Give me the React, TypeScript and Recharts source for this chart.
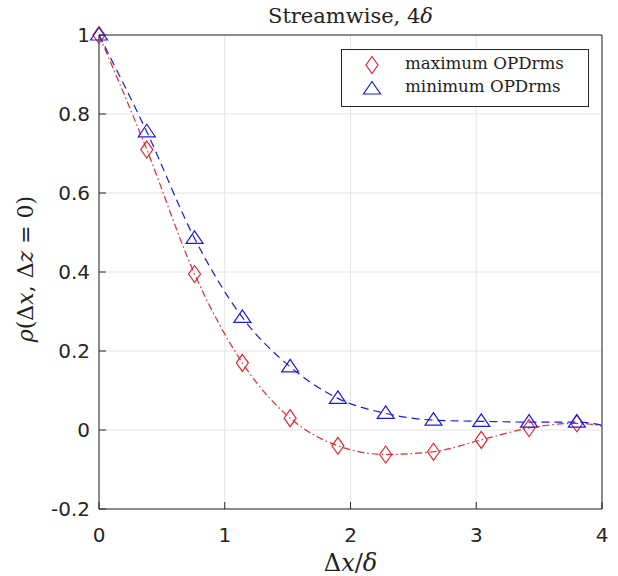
import React from "react";
import {
  ComposedChart,
  Line,
  CartesianGrid,
  XAxis,
  YAxis
} from "recharts";

// separations dx/delta at which the correlation was sampled (last one is the curve end)
const dxValues = [0, 0.38, 0.76, 1.14, 1.52, 1.9, 2.28, 2.66, 3.04, 3.42, 3.8, 4];
const maxOpd = [1, 0.71, 0.395, 0.17, 0.03, -0.04, -0.062, -0.055, -0.025, 0.005, 0.017, 0.01];
const minOpd = [1, 0.755, 0.485, 0.285, 0.16, 0.08, 0.042, 0.025, 0.022, 0.02, 0.02, 0.012];
const markerCount = 11;

const xTicks = [0, 1, 2, 3, 4];
const yTicks = [-0.2, 0, 0.2, 0.4, 0.6, 0.8, 1];

const data = dxValues.map((dx, i) => ({ dx, max: maxOpd[i], min: minOpd[i] }));

const RED = "#e4262e";
const BLUE = "#1a1ae6";
const AXIS = "#262626";
const SERIF = "'DejaVu Serif', 'Liberation Serif', serif";
const SANS = "'DejaVu Sans', Arial, sans-serif";

const diamondPath = (cx: number, cy: number) =>
  `M${cx},${cy - 8.5} L${cx + 6},${cy} L${cx},${cy + 8.5} L${cx - 6},${cy} Z`;
const trianglePath = (cx: number, cy: number) =>
  `M${cx},${cy - 7.5} L${cx + 8.5},${cy + 5} L${cx - 8.5},${cy + 5} Z`;

function Diamond(props: any) {
  const { cx, cy, index } = props;
  if (index >= markerCount || cx == null) return <g key={"d" + index} />;
  return <path key={"d" + index} d={diamondPath(cx, cy)} fill="none" stroke={RED} strokeWidth={1.2} />;
}

function Triangle(props: any) {
  const { cx, cy, index } = props;
  if (index >= markerCount || cx == null) return <g key={"t" + index} />;
  return <path key={"t" + index} d={trianglePath(cx, cy)} fill="none" stroke={BLUE} strokeWidth={1.2} />;
}

function LegendBox() {
  return (
    <svg width={248} height={58} style={{ position: "absolute", left: 341, top: 49 }}>
      <rect x={0.5} y={0.5} width={247} height={57} fill="#fff" stroke={AXIS} strokeWidth={1} />
      <path d={diamondPath(31, 16)} fill="none" stroke={RED} strokeWidth={1.2} />
      <text x={64} y={20} fontFamily={SERIF} fontSize={16.7} fill="#222">
        maximum OPDrms
      </text>
      <path d={trianglePath(31, 40)} fill="none" stroke={BLUE} strokeWidth={1.2} />
      <text x={64} y={43} fontFamily={SERIF} fontSize={16.7} fill="#222">
        minimum OPDrms
      </text>
    </svg>
  );
}

export default function App() {
  return (
    <div style={{ position: "absolute", left: 0, top: 0, width: 618, height: 576, background: "#fff" }}>
      <ComposedChart
        width={618}
        height={576}
        data={data}
        margin={{ top: 34, right: 15, bottom: 37, left: 39 }}
      >
        <CartesianGrid xAxisId="bottom" yAxisId="left" stroke="#e3e3e3" strokeWidth={1} />
        <XAxis
          xAxisId="bottom"
          dataKey="dx"
          type="number"
          domain={[0, 4]}
          ticks={xTicks}
          height={30}
          stroke={AXIS}
          tickSize={-7}
          tickMargin={26}
          tick={{ fill: AXIS, fontSize: 20, fontFamily: SANS }}
          label={{
            content: (p: any) => {
              const vb = p.viewBox;
              return (
                <text x={vb.x + vb.width / 2} y={571} textAnchor="middle" fontFamily={SERIF} fontSize={24} fill="#222">
                  Δ<tspan fontStyle="italic">x</tspan>/<tspan fontStyle="italic">δ</tspan>
                </text>
              );
            }
          }}
        />
        <XAxis
          xAxisId="top"
          dataKey="dx"
          type="number"
          orientation="top"
          domain={[0, 4]}
          ticks={xTicks}
          height={1}
          stroke={AXIS}
          tickSize={-7}
          tick={false}
          label={{
            content: (p: any) => {
              const vb = p.viewBox;
              return (
                <text x={vb.x + vb.width / 2} y={23} textAnchor="middle" fontFamily={SERIF} fontSize={21} fill="#222">
                  Streamwise, 4<tspan fontStyle="italic">δ</tspan>
                </text>
              );
            }
          }}
        />
        <YAxis
          yAxisId="left"
          type="number"
          domain={[-0.2, 1]}
          ticks={yTicks}
          width={60}
          stroke={AXIS}
          tickSize={-7}
          tickMargin={16}
          tick={{ fill: AXIS, fontSize: 20, fontFamily: SANS }}
          tickFormatter={(v: number) => String(Math.round(v * 10) / 10)}
          label={{
            content: (p: any) => {
              const vb = p.viewBox;
              const cy = vb.y + vb.height / 2 - 3;
              return (
                <text
                  x={27}
                  y={cy}
                  transform={`rotate(-90 27 ${cy})`}
                  textAnchor="middle"
                  dominantBaseline="middle"
                  fontFamily={SERIF}
                  fontSize={22}
                  fill="#222"
                >
                  <tspan fontStyle="italic">ρ</tspan>(Δ<tspan fontStyle="italic">x</tspan>, Δ
                  <tspan fontStyle="italic">z</tspan> = 0)
                </text>
              );
            }
          }}
        />
        <YAxis
          yAxisId="right"
          orientation="right"
          type="number"
          domain={[-0.2, 1]}
          ticks={yTicks}
          width={1}
          stroke={AXIS}
          tickSize={-7}
          tick={false}
        />
        <Line
          xAxisId="bottom"
          yAxisId="left"
          type="monotone"
          dataKey="max"
          stroke={RED}
          strokeWidth={1.2}
          strokeDasharray="7 3 1.5 3"
          dot={Diamond}
          activeDot={false}
          isAnimationActive={false}
        />
        <Line
          xAxisId="bottom"
          yAxisId="left"
          type="monotone"
          dataKey="min"
          stroke={BLUE}
          strokeWidth={1.2}
          strokeDasharray="8 5"
          dot={Triangle}
          activeDot={false}
          isAnimationActive={false}
        />
      </ComposedChart>
      <LegendBox />
    </div>
  );
}
